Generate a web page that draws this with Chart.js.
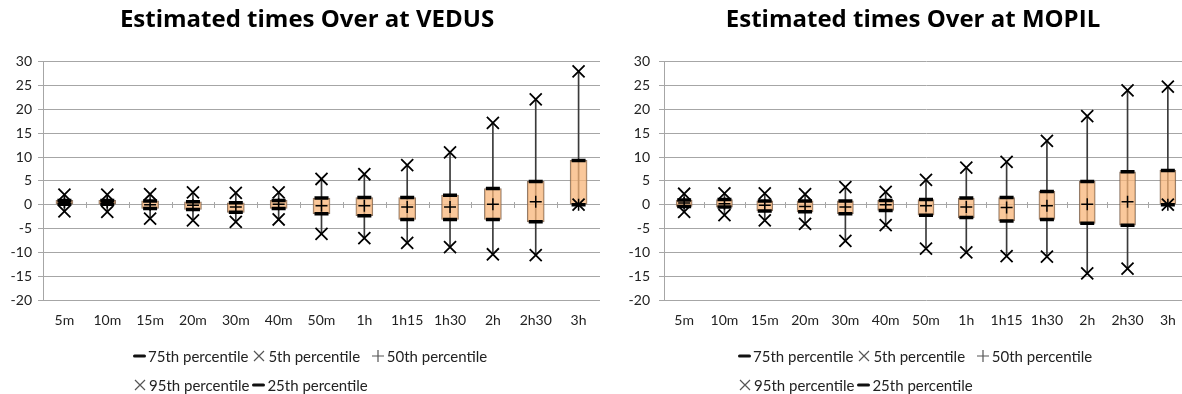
<!DOCTYPE html>
<html>
<head>
<meta charset="utf-8">
<script src="https://cdn.jsdelivr.net/npm/chart.js@4.4.1/dist/chart.umd.min.js"></script>
<style>
html, body { margin: 0; padding: 0; background: #fff; }
body { width: 1182px; height: 394px; overflow: hidden; position: relative; font-family: Lato, "Open Sans", sans-serif; }
.chart { position: absolute; top: 0; }
.legend { position: absolute; top: 341px; display: grid; grid-template-columns: auto auto auto; grid-auto-rows: 29px; column-gap: 3px; font-size: 15px; color: #222; }
.legend span { display: flex; align-items: center; white-space: nowrap; }
.legend svg { margin-right: 2px; }
</style>
</head>
<body>
<canvas id="vedus" class="chart" width="614" height="394" style="left:0"></canvas>
<canvas id="mopil" class="chart" width="626" height="394" style="left:600px"></canvas>
<div id="legend-vedus" class="legend" style="left:133px"></div>
<div id="legend-mopil" class="legend" style="left:738px"></div>
<script>
// Categories (forecast horizon)
const categories = ['5m', '10m', '15m', '20m', '30m', '40m', '50m', '1h', '1h15', '1h30', '2h', '2h30', '3h'];

// VEDUS percentiles
const vedusP5  = [-1.4, -1.5, -2.9, -3.3, -3.6, -3.1, -6.1, -7.0, -8.0, -8.9, -10.4, -10.6, 0];
const vedusP25 = [0.1, 0.1, -0.8, -1.0, -1.6, -0.8, -1.9, -2.3, -3.1, -3.1, -3.1, -3.6, 0];
const vedusP50 = [0.5, 0.5, 0, -0.1, -0.5, 0.1, -0.2, -0.2, -0.5, -0.5, 0.1, 0.6, 0];
const vedusP75 = [0.9, 0.9, 0.8, 0.6, 0.4, 0.9, 1.4, 1.5, 1.5, 2.0, 3.4, 4.9, 9.3];
const vedusP95 = [2.1, 2.1, 2.2, 2.6, 2.5, 2.6, 5.4, 6.4, 8.3, 11.0, 17.2, 22.1, 28.0];

// MOPIL percentiles
const mopilP5  = [-1.5, -2.2, -3.3, -4.0, -7.6, -4.3, -9.2, -10.0, -10.8, -10.9, -14.4, -13.4, 0];
const mopilP25 = [-0.35, -0.5, -1.3, -1.5, -1.9, -1.2, -2.2, -2.7, -3.4, -3.1, -3.9, -4.3, 0];
const mopilP50 = [0.35, 0.2, -0.1, -0.35, -0.5, 0, -0.2, -0.5, -0.6, -0.2, 0.1, 0.6, 0];
const mopilP75 = [1.0, 1.1, 0.8, 0.8, 0.8, 0.9, 1.1, 1.4, 1.5, 2.8, 4.9, 6.9, 7.2];
const mopilP95 = [2.3, 2.4, 2.4, 2.2, 3.7, 2.7, 5.2, 7.8, 9.0, 13.4, 18.6, 24.0, 24.8];

// Y axis ticks
const yMin = -20;
const yMax = 30;
const yStep = 5;

const gridColor = '#a6a6a6';
const textColor = '#222';
const fontFamily = 'Lato, "Open Sans", sans-serif';
const titleFont = '"Open Sans", Lato, sans-serif';

/**
 * Small tick marks on the category axis, which crosses at 0
 */
const zeroAxisTicks = {
    id: 'zeroAxisTicks',
    beforeDatasetsDraw(chart) {
        const x = chart.scales.x;
        const y = chart.scales.y;
        const ctx = chart.ctx;
        const y0 = Math.round(y.getPixelForValue(0));
        ctx.save();
        ctx.strokeStyle = gridColor;
        ctx.lineWidth = 1;
        ctx.beginPath();
        for (let i = 1; i < categories.length; i++) {
            const xp = Math.round((x.getPixelForValue(i - 1) + x.getPixelForValue(i)) / 2) + 0.5;
            ctx.moveTo(xp, y0 - 3);
            ctx.lineTo(xp, y0 + 3);
        }
        ctx.stroke();
        ctx.restore();
    }
};

/**
 * Centre the title on the whole canvas, not on the padded box
 */
const fullWidthTitle = {
    id: 'fullWidthTitle',
    afterLayout(chart) {
        const block = chart.titleBlock;
        if (block) {
            block.left = 0;
            block.right = chart.width;
            block.width = chart.width;
        }
    }
};

/**
 * Point dataset (markers only)
 */
function markerSet(label, data, style, radius, width, order) {
    return {
        type: 'line',
        label: label,
        data: data,
        showLine: false,
        pointStyle: style,
        pointRadius: radius,
        pointBorderWidth: width,
        pointBorderColor: '#000',
        pointBackgroundColor: '#000',
        order: order
    };
}

/**
 * Build one box chart
 */
function makeChart(id, title, p5, p25, p50, p75, p95, axisWidth, labelPad, padRight, boxWidth) {
    return new Chart(document.getElementById(id), {
        type: 'bar',
        data: {
            labels: categories,
            datasets: [
                markerSet('75th percentile', p75, 'line', 7, 3.5, 1),
                markerSet('5th percentile', p5, 'crossRot', 8.5, 1.8, 0),
                markerSet('50th percentile', p50, 'cross', 6, 1.5, 0),
                markerSet('95th percentile', p95, 'crossRot', 8.5, 1.8, 0),
                markerSet('25th percentile', p25, 'line', 7, 3.5, 1),
                {
                    type: 'bar',
                    label: 'box',
                    data: p25.map((v, i) => [v, p75[i]]),
                    grouped: false,
                    barThickness: boxWidth,
                    backgroundColor: 'rgba(248,182,122,0.75)',
                    borderColor: 'rgba(120,95,75,0.85)',
                    borderWidth: 1,
                    borderSkipped: false,
                    order: 2
                },
                {
                    type: 'bar',
                    label: 'whisker',
                    data: p5.map((v, i) => [v, p95[i]]),
                    grouped: false,
                    barThickness: 1,
                    backgroundColor: '#3a3a3a',
                    order: 3
                }
            ]
        },
        options: {
            responsive: false,
            animation: false,
            layout: { padding: { left: 0, right: padRight, top: 0, bottom: 64 } },
            plugins: {
                legend: { display: false },
                tooltip: { enabled: false },
                title: {
                    display: true,
                    text: title,
                    color: '#000',
                    font: { family: titleFont, size: 24, weight: 'bold' },
                    padding: { top: 6, bottom: 27 }
                }
            },
            scales: {
                x: {
                    grid: { display: false, drawTicks: false },
                    border: { display: false },
                    ticks: { color: textColor, font: { family: fontFamily, size: 14 }, padding: 12 },
                    afterFit(scale) { scale.height = 30; }
                },
                y: {
                    min: yMin,
                    max: yMax,
                    ticks: { stepSize: yStep, color: textColor, font: { family: fontFamily, size: 14 }, padding: labelPad },
                    grid: { color: gridColor, tickLength: 5 },
                    border: { color: gridColor },
                    afterFit(scale) { scale.width = axisWidth; }
                }
            }
        },
        plugins: [zeroAxisTicks, fullWidthTitle]
    });
}

/**
 * HTML legend built from the marker datasets
 */
const marks = {
    line: '<svg width="13" height="14"><line x1="1.5" y1="7" x2="11.5" y2="7" stroke="#111" stroke-width="3" stroke-linecap="round"/></svg>',
    crossRot: '<svg width="14" height="14"><path d="M2 2L12 12M12 2L2 12" stroke="#555" stroke-width="1.2"/></svg>',
    cross: '<svg width="14" height="14"><path d="M1 7H13M7 1V13" stroke="#555" stroke-width="1.2"/></svg>'
};

function buildLegend(chart, id) {
    const box = document.getElementById(id);
    chart.data.datasets.filter(ds => ds.type === 'line').forEach(ds => {
        const item = document.createElement('span');
        item.innerHTML = marks[ds.pointStyle] + ds.label;
        box.appendChild(item);
    });
}

const vedusChart = makeChart('vedus', 'Estimated times Over at VEDUS',
    vedusP5, vedusP25, vedusP50, vedusP75, vedusP95, 43, 6, 14, 17);
const mopilChart = makeChart('mopil', 'Estimated times Over at MOPIL',
    mopilP5, mopilP25, mopilP50, mopilP75, mopilP95, 64, 9, 38, 16);

buildLegend(vedusChart, 'legend-vedus');
buildLegend(mopilChart, 'legend-mopil');
</script>
</body>
</html>
